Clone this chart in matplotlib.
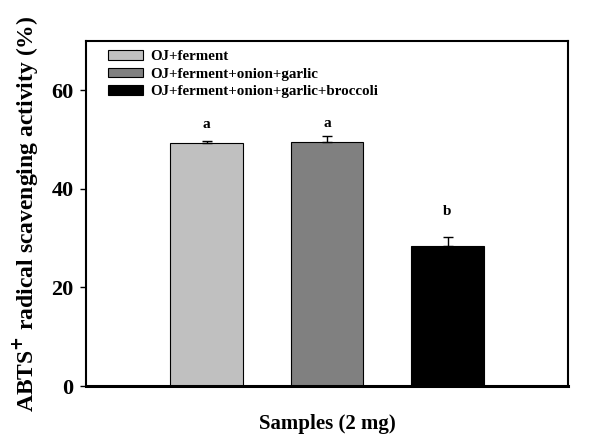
import matplotlib
matplotlib.use('Agg')
from matplotlib import pyplot as plt

samples = ['OJ+ferment', 'OJ+ferment+onion+garlic', 'OJ+ferment+onion+garlic+broccoli']
activity = [49.4, 49.6, 28.5]
errors = [0.3, 1.2, 1.7]
letters = ['a', 'a', 'b']
letter_y = [53.0, 53.2, 35.4]
colors = ['#c0c0c0', '#808080', '#000000']

plt.rcParams['font.family'] = ['Liberation Serif', 'DejaVu Serif']
plt.rcParams['font.weight'] = 'bold'

fig = plt.figure(figsize=(6.01, 4.46), dpi=100)
ax = fig.add_axes([86 / 601, 1 - 386 / 446, (568 - 86) / 601, (386 - 41) / 446])

x = [1, 2, 3]
for xi, val, err, col, name in zip(x, activity, errors, colors, samples):
    ax.bar(xi, val, width=0.6, color=col, edgecolor='black', linewidth=0.8, label=name, zorder=2)
    ax.errorbar(xi, val, yerr=[[0], [err]], fmt='none', ecolor='black', elinewidth=1,
                capsize=3.6, capthick=1, zorder=3)

for xi, ly, let in zip(x, letter_y, letters):
    ax.text(xi, ly, let, ha='center', va='center', fontsize=11, fontweight='bold')

ax.set_xlim(0, 4)
ax.set_ylim(0, 70)
ax.set_yticks([0, 20, 40, 60])
ax.set_xticks([])
ax.tick_params(axis='y', direction='out', length=4, width=1, labelsize=16, pad=5)
for lab in ax.get_yticklabels():
    lab.set_fontweight('bold')
for side in ['top', 'right', 'left']:
    ax.spines[side].set_linewidth(1.5)
ax.spines['bottom'].set_linewidth(2.2)

ax.set_xlabel('Samples (2 mg)', fontsize=15, fontweight='bold', labelpad=20)
ax.set_ylabel('ABTS$^{\\mathbf{+}}$ radical scavenging activity (%)', fontsize=17,
              fontweight='bold', labelpad=8)

leg = ax.legend(loc='upper left', bbox_to_anchor=(0.027, 1.0), frameon=False, fontsize=10.8,
                handlelength=2.3, handleheight=0.6, handletextpad=0.5, labelspacing=0.3,
                borderaxespad=0.2)
for t in leg.get_texts():
    t.set_fontweight('bold')

fig.savefig('out.png', dpi=100)
